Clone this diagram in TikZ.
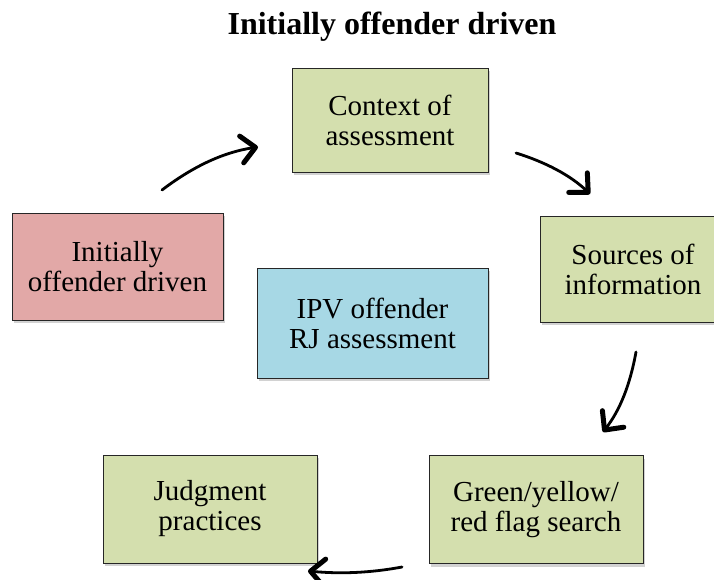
\documentclass[tikz,border=0pt]{standalone}
\usepackage{fontspec}
\setmainfont{Liberation Serif}
\usetikzlibrary{shadows,arrows.meta}
\definecolor{boxgreen}{RGB}{212,223,174}
\definecolor{boxred}{RGB}{226,168,167}
\definecolor{boxblue}{RGB}{167,216,229}
\begin{document}
\begin{tikzpicture}[x=1pt,y=-1pt,
  stagebox/.style={draw=black!85, line width=0.9pt, align=center, inner sep=0pt,
    font=\fontsize{29}{30}\selectfont,
    drop shadow={opacity=0.35, shadow xshift=1.5pt, shadow yshift=-3pt}},
  flowarrow/.style={line width=2.8pt, line cap=round,
    -{Straight Barb[round,length=14pt,width=27pt,line width=5pt]}}]
  \clip (0,0) rectangle (714,580);
  \fill[white] (0,0) rectangle (714,580);

  % heading
  \node[font=\bfseries\fontsize{32}{36}\selectfont] (title) at (392,27) {Initially offender driven};

  % stage boxes
  \node[stagebox, fill=boxgreen, minimum width=196pt, minimum height=104pt] (context) at (390,120) {Context of\\assessment};
  \node[stagebox, fill=boxgreen, minimum width=186pt, minimum height=106pt] (sources) at (633,269) {Sources of\\information};
  \node[stagebox, fill=boxred, minimum width=211pt, minimum height=107pt] (driven) at (117.5,266.5) {Initially\\offender driven};
  \node[stagebox, fill=boxblue, minimum width=231pt, minimum height=110pt] (ipv) at (372.5,323) {IPV offender\\RJ assessment};
  \node[stagebox, fill=boxgreen, minimum width=214pt, minimum height=108pt] (judgment) at (210,509) {Judgment\\practices};
  \node[stagebox, fill=boxgreen, minimum width=214pt, minimum height=108pt] (flags) at (536,509.5) {Green/yellow/\\red flag search};

  % free ends of the hand-drawn arrows
  \coordinate (a1s) at (162,190);
  \coordinate (a1e) at (258,147);
  \coordinate (a2s) at (516,153);
  \coordinate (a2e) at (590,194);
  \coordinate (a3s) at (636,352);
  \coordinate (a3e) at (603,432);
  \coordinate (a4s) at (402,567);
  \coordinate (a4e) at (308,571);

  \draw[flowarrow] (a1s) .. controls (195,165) and (225,152) .. (a1e);
  \draw[flowarrow] (a2s) .. controls (545,162) and (570,175) .. (a2e);
  \draw[flowarrow] (a3s) .. controls (630,385) and (620,410) .. (a3e);
  \draw[flowarrow] (a4s) .. controls (370,573) and (340,574) .. (a4e);
\end{tikzpicture}
\end{document}
